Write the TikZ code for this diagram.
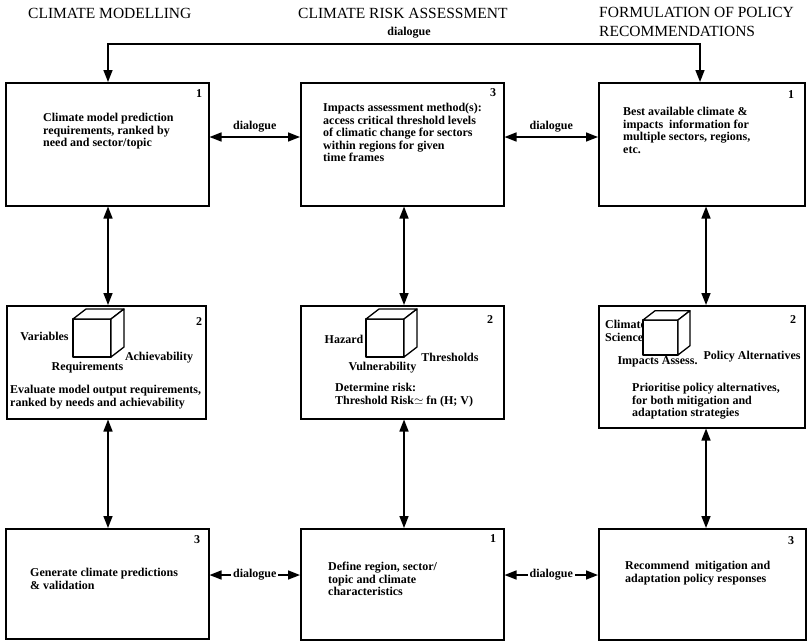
\documentclass[tikz,border=0pt]{standalone}
\usepackage{fontspec}
\setmainfont{Liberation Serif}
\usetikzlibrary{arrows.meta,calc}
\tikzset{
  box/.style={draw, line width=1.5pt, inner sep=0pt, anchor=north west},
  txt/.style={font=\fontsize{12}{12.5}\selectfont\bfseries, align=left, inner sep=0pt, anchor=north west},
  lbl/.style={font=\fontsize{12}{12.5}\selectfont\bfseries, inner sep=0pt},
  num/.style={font=\fontsize{12}{12}\selectfont\bfseries, inner sep=0pt},
  head/.style={font=\fontsize{15.5}{19}\selectfont, align=left, inner sep=0pt},
  dbl/.style={line width=1.5pt, {Triangle[length=12pt,width=9pt]}-{Triangle[length=12pt,width=9pt]}},
  cubeline/.style={draw, fill=white, line width=1.3pt, line join=round},
  cube/.pic={
    \path[cubeline] (0,0) rectangle (38,38);
    \path[cubeline] (0,0) -- (13,-10) -- (51,-10) -- (38,0) -- cycle;
    \path[cubeline] (38,0) -- (51,-10) -- (51,28) -- (38,38) -- cycle;
  }
}
\begin{document}
\begin{tikzpicture}[x=1pt,y=-1pt]
\useasboundingbox (0,0) rectangle (810,643);
% headings
\node[head, anchor=west] (h1) at (28,13) {CLIMATE MODELLING};
\node[head, anchor=west] (h2) at (298,13) {CLIMATE RISK ASSESSMENT};
\node[head, anchor=north west] (h3) at (599,7) {FORMULATION OF POLICY\\RECOMMENDATIONS};
% boxes
\node[box, minimum width=203pt, minimum height=123pt] (L1) at (5,82) {};
\node[box, minimum width=203pt, minimum height=123pt] (M1) at (300,82) {};
\node[box, minimum width=206pt, minimum height=123pt] (R1) at (598,82) {};
\node[box, minimum width=199pt, minimum height=113pt] (L2) at (6,305) {};
\node[box, minimum width=203pt, minimum height=113pt] (M2) at (300,305) {};
\node[box, minimum width=206pt, minimum height=122pt] (R2) at (598,305) {};
\node[box, minimum width=203pt, minimum height=110pt] (L3) at (5,528) {};
\node[box, minimum width=203pt, minimum height=111pt] (M3) at (300,528) {};
\node[box, minimum width=207pt, minimum height=111pt] (R3) at (598,528) {};
% numbers
\node[num] (nL1) at (199,94) {1};
\node[num] (nM1) at (493,93) {3};
\node[num] (nR1) at (791,95) {1};
\node[num] (nL2) at (199,322) {2};
\node[num] (nM2) at (490,320) {2};
\node[num] (nR2) at (793,320) {2};
\node[num] (nL3) at (197,540) {3};
\node[num] (nM3) at (493,539) {1};
\node[num] (nR3) at (791,541) {3};
% texts
\node[txt] (tL1) at (43,113) {Climate model prediction\\requirements, ranked by\\need and sector/topic};
\node[txt] (tM1) at (323,103) {Impacts assessment method(s):\\access critical threshold levels\\of climatic change for sectors\\within regions for given\\time frames};
\node[txt] (tR1) at (623,107) {Best available climate \&\\impacts\ \ information for\\multiple sectors, regions,\\etc.};
\node[txt] (tL2) at (10,385) {Evaluate model output requirements,\\ranked by needs and achievability};
\node[txt] (tM2) at (335,383) {Determine risk:\\Threshold Risk$\simeq$ fn (H; V)};
\node[txt] (tR2) at (632,383) {Prioritise policy alternatives,\\for both mitigation and\\adaptation strategies};
\node[txt] (tL3) at (30,568) {Generate climate predictions\\\& validation};
\node[txt] (tM3) at (328,562) {Define region, sector/\\topic and climate\\characteristics};
\node[txt] (tR3) at (625,561) {Recommend\ \ mitigation and\\adaptation policy responses};
% cubes and their labels
\node[lbl] (cR2a) at (605,324) [anchor=west] {Climate};
\node[lbl] (cR2b) at (605,337) [anchor=west] {Science};
\pic at (73,319) {cube};
\pic at (366,319) {cube};
\pic[scale=0.92] at (643,320) {cube};
\node[lbl] (cL2a) at (44.5,336) {Variables};
\node[lbl] (cL2b) at (87.5,368) {Requirements};
\node[lbl] (cL2c) at (159,358) {Achievability};
\node[lbl] (cM2a) at (344,339) {Hazard};
\node[lbl] (cM2b) at (382.5,368) {Vulnerability};
\node[lbl] (cM2c) at (450,357) {Thresholds};
\node[lbl] (cR2c) at (657.5,362) {Impacts Assess.};
\node[lbl] (cR2d) at (752,357) {Policy Alternatives};
% connectors
\coordinate (tl) at (108,44);
\coordinate (tr) at (700,44);
\draw[dbl] (tl |- L1.north) -- (tl) -- (tr) -- (tr |- R1.north);
\node[lbl] (dtop) at (409,33) {dialogue};
\coordinate (yT) at (0,137);
\coordinate (yB) at (0,575);
\draw[dbl] (L1.east |- yT) -- node[lbl, above=4pt] (d1) {dialogue} (M1.west |- yT);
\draw[dbl] (M1.east |- yT) -- node[lbl, above=4pt] (d2) {dialogue} (R1.west |- yT);
\draw[dbl] (L3.east |- yB) -- node[lbl, fill=white, inner sep=2pt] (d3) {dialogue} (M3.west |- yB);
\draw[dbl] (M3.east |- yB) -- node[lbl, fill=white, inner sep=2pt] (d4) {dialogue} (R3.west |- yB);
\coordinate (cL) at (108,0);
\coordinate (cM) at (404,0);
\coordinate (cR) at (706,0);
\draw[dbl] (cL |- L1.south) -- (cL |- L2.north);
\draw[dbl] (cM |- M1.south) -- (cM |- M2.north);
\draw[dbl] (cR |- R1.south) -- (cR |- R2.north);
\draw[dbl] (cL |- L2.south) -- (cL |- L3.north);
\draw[dbl] (cM |- M2.south) -- (cM |- M3.north);
\draw[dbl] (cR |- R2.south) -- (cR |- R3.north);
\end{tikzpicture}
\end{document}
